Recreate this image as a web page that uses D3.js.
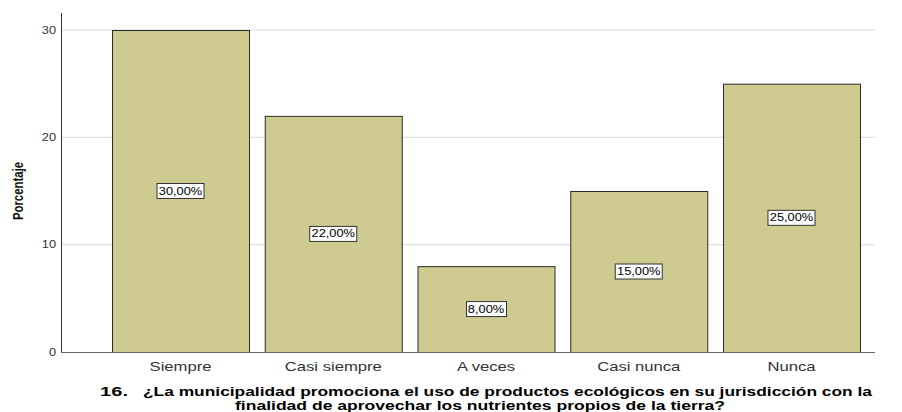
<!DOCTYPE html>
<html><head><meta charset="utf-8">
<script src="https://cdn.jsdelivr.net/npm/d3@7"></script>
<style>body{margin:0;background:#fff}svg{display:block}</style>
</head><body>
<svg id="c" width="902" height="412"></svg>
<script>
const categories = ["Siempre","Casi siempre","A veces","Casi nunca","Nunca"];
const values = [30,22,8,15,25];
const valueLabels = ["30,00%","22,00%","8,00%","15,00%","25,00%"];
const yTicks = [0,10,20,30];
const yTitle = "Porcentaje";
const titleNumber = "16.";
const titleLines = ["¿La municipalidad promociona el uso de productos ecológicos en su jurisdicción con la","finalidad de aprovechar los nutrientes propios de la tierra?"];

const FONT = "Arial, Liberation Sans, sans-serif";
const SX = 1.28; // horizontal stretch of the original export
const svg = d3.select("#c");
const x = d3.scaleBand().domain(categories).range([112,860]).paddingInner(0.103).paddingOuter(0);
const y = d3.scaleLinear().domain([0,30]).range([352,30]);
const left = 61, right = 875;

// gridlines
svg.append("g").selectAll("line").data(yTicks.filter(d=>d>0)).join("line")
  .attr("x1",left).attr("x2",right).attr("y1",d=>y(d)).attr("y2",d=>y(d))
  .attr("stroke","#d9d9d9").attr("stroke-width",1);

// y tick labels
svg.append("g").selectAll("g").data(yTicks).join("g")
  .attr("transform",d=>`translate(56,${y(d)}) scale(${SX},1)`)
  .append("text").text(d3.format("d")).attr("text-anchor","end").attr("dy","0.35em")
  .attr("font-family",FONT).attr("font-size",10).attr("fill","#333");
svg.append("line").attr("x1",left+0.5).attr("x2",left+0.5).attr("y1",13).attr("y2",352).attr("stroke","#333");

// bars
svg.append("g").selectAll("rect").data(values).join("rect")
  .attr("x",(d,i)=>x(categories[i])+0.5).attr("width",x.bandwidth())
  .attr("y",d=>y(d)+0.5).attr("height",d=>y(0)-y(d))
  .attr("fill","#cfca8f").attr("stroke","#2b2b2b").attr("stroke-width",1);

// baseline
svg.append("line").attr("x1",left).attr("x2",right).attr("y1",352.5).attr("y2",352.5).attr("stroke","#666");

// value labels
const lg = svg.append("g").selectAll("g").data(values).join("g")
  .attr("transform",(d,i)=>`translate(${x(categories[i])+x.bandwidth()/2},${y(d/2)})`);
lg.each(function(d,i){
  const g = d3.select(this);
  const inner = g.append("g").attr("transform",`scale(${SX},1)`);
  const t = inner.append("text").text(valueLabels[i]).attr("text-anchor","middle").attr("dy","0.35em")
    .attr("font-family",FONT).attr("font-size",10).attr("fill","#000");
  const bb = t.node().getBBox();
  const w = Math.round(bb.width*SX+4), h = 15;
  g.insert("rect","g").attr("x",-Math.round(w/2)+0.5).attr("y",-7.5)
    .attr("width",w).attr("height",h)
    .attr("fill","#fff").attr("stroke","#333").attr("stroke-width",1);
});

// category labels
svg.append("g").selectAll("g").data(categories).join("g")
  .attr("transform",d=>`translate(${x(d)+x.bandwidth()/2},371) scale(${SX},1)`)
  .append("text").text(d=>d).attr("text-anchor","middle")
  .attr("font-family",FONT).attr("font-size",13).attr("fill","#333");

// y title (condensed bold)
svg.append("text").text(yTitle).attr("transform","translate(23,191) rotate(-90) scale(0.76,1)")
  .attr("text-anchor","middle").attr("font-family",FONT)
  .attr("font-size",15).attr("font-weight","bold").attr("fill","#111");

// title
svg.append("text").text(titleNumber).attr("x",100).attr("y",396).attr("textLength",28).attr("lengthAdjust","spacingAndGlyphs")
  .attr("font-family",FONT).attr("font-size",12).attr("font-weight","bold").attr("fill","#000");
const tpos = [{x:143,w:729,y:396},{x:235,w:490,y:409.5}];
svg.append("g").selectAll("text").data(titleLines).join("text").text(d=>d)
  .attr("x",(d,i)=>tpos[i].x).attr("y",(d,i)=>tpos[i].y)
  .attr("textLength",(d,i)=>tpos[i].w).attr("lengthAdjust","spacingAndGlyphs")
  .attr("font-family",FONT).attr("font-size",12).attr("font-weight","bold").attr("fill","#000");
</script>
</body></html>
